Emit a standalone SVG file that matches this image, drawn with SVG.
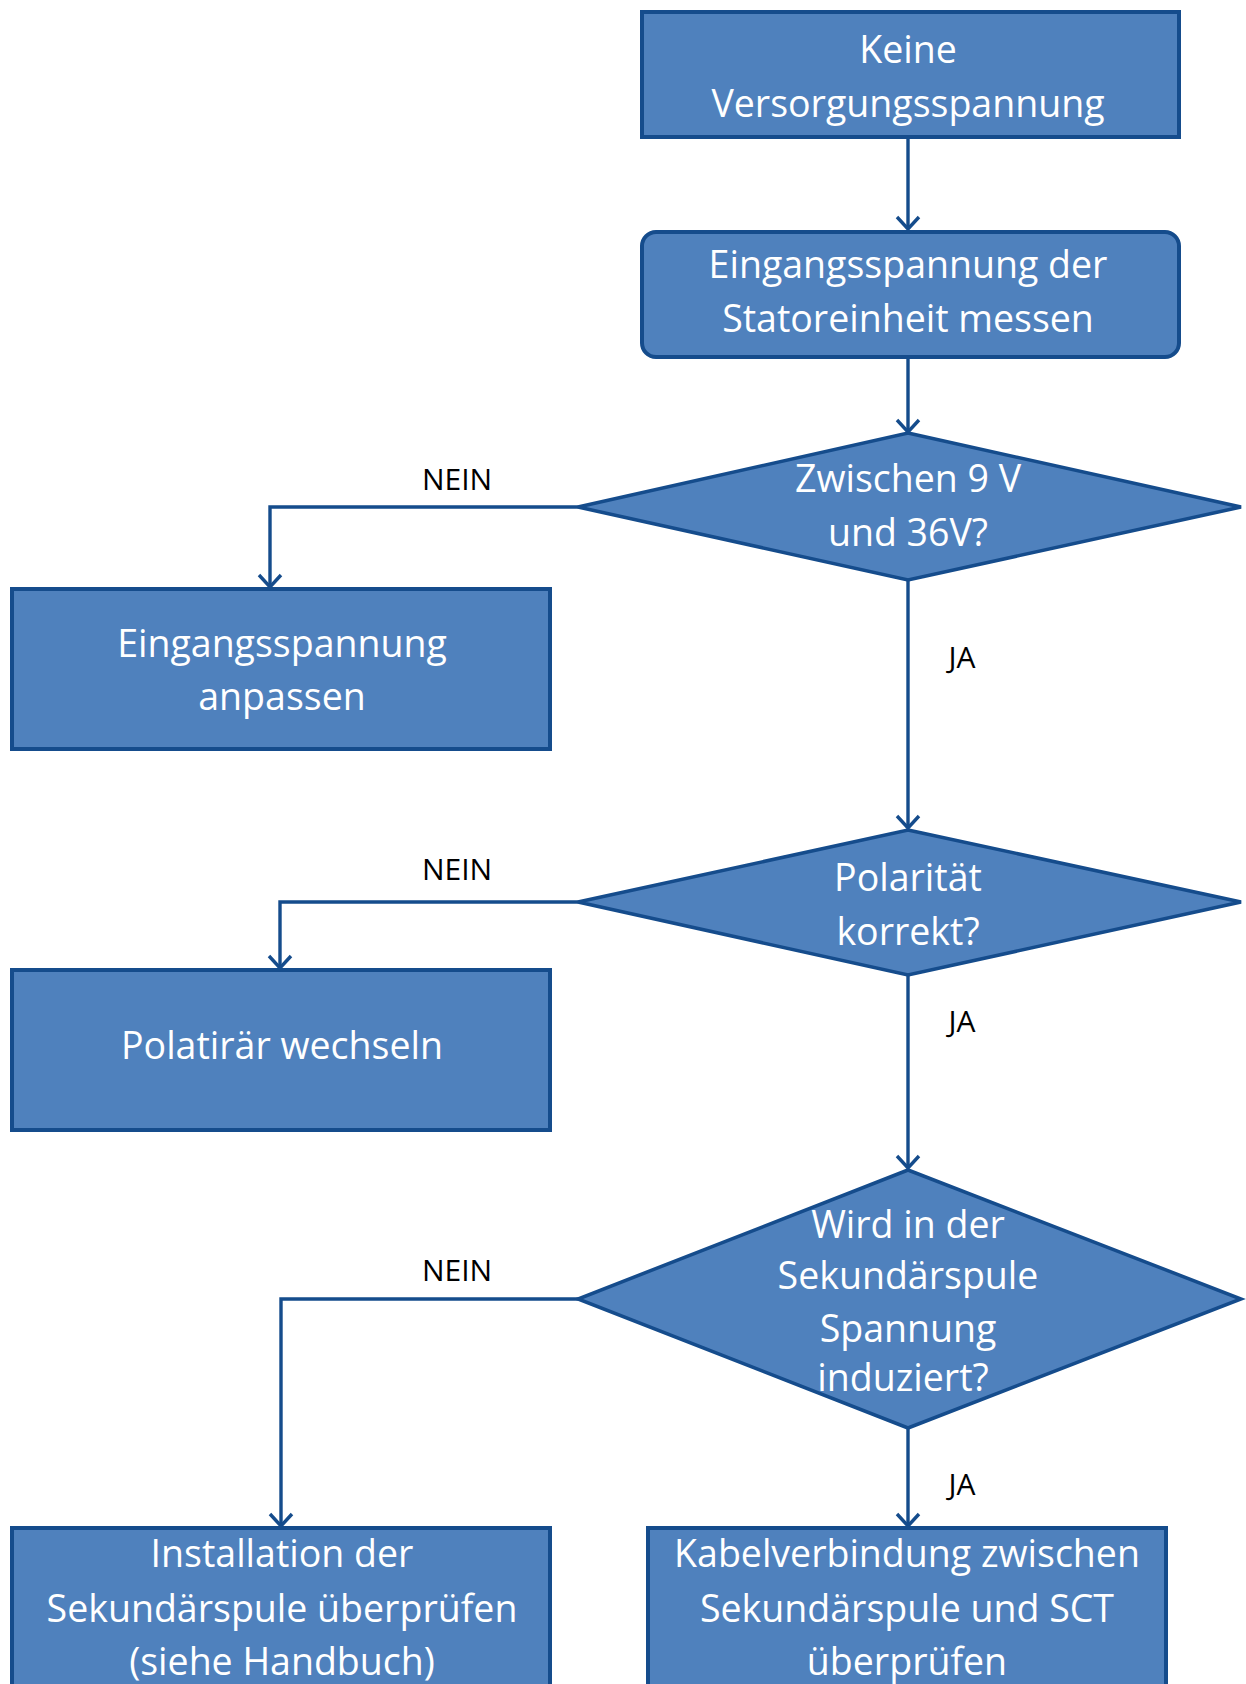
<svg xmlns="http://www.w3.org/2000/svg" width="1246" height="1684" viewBox="0 0 1246 1684">
  <style>
    .node { fill: #4F81BD; stroke: #154C8C; stroke-width: 4; }
    .diamond { fill: #4F81BD; stroke: #154C8C; stroke-width: 3.5; stroke-linejoin: miter; }
    .label { font-family: "Open Sans", "Noto Sans", "Liberation Sans", sans-serif; font-size: 37.5px; fill: #FFFFFF; text-anchor: middle; }
    .edge { fill: none; stroke: #154C8C; stroke-width: 3.4; }
    .edge-label { font-family: "Open Sans", "Noto Sans", "Liberation Sans", sans-serif; font-size: 30px; fill: #000000; text-anchor: middle; }
  </style>
  <defs>
    <marker id="arrow" markerUnits="userSpaceOnUse" markerWidth="30" markerHeight="30" viewBox="-15 -15 30 30" refX="0" refY="0" orient="auto">
      <path d="M-12,-11 L0,0 L-12,11" fill="none" stroke="#154C8C" stroke-width="3.4" stroke-linejoin="miter"/>
    </marker>
  </defs>
  <rect width="1246" height="1684" fill="#FFFFFF"/>

  <!-- connectors -->
  <g id="connectors">
    <path class="edge" d="M908,138 L908,229" marker-end="url(#arrow)"/>
    <path class="edge" d="M908,357 L908,432" marker-end="url(#arrow)"/>
    <path class="edge" d="M578,507 L270,507 L270,587" marker-end="url(#arrow)"/>
    <path class="edge" d="M908,580 L908,828" marker-end="url(#arrow)"/>
    <path class="edge" d="M578,902 L280,902 L280,968" marker-end="url(#arrow)"/>
    <path class="edge" d="M908,975 L908,1168" marker-end="url(#arrow)"/>
    <path class="edge" d="M578,1299 L281,1299 L281,1526" marker-end="url(#arrow)"/>
    <path class="edge" d="M908,1428 L908,1526" marker-end="url(#arrow)"/>
    <text class="edge-label" x="457" y="490">NEIN</text>
    <text class="edge-label" x="962" y="668">JA</text>
    <text class="edge-label" x="457" y="880">NEIN</text>
    <text class="edge-label" x="962" y="1032">JA</text>
    <text class="edge-label" x="457" y="1281">NEIN</text>
    <text class="edge-label" x="962" y="1495">JA</text>
  </g>

  <!-- start -->
  <g id="node-start">
    <rect class="node" x="642" y="12" width="537" height="125"/>
    <text class="label" x="908" y="63">Keine</text>
    <text class="label" x="908" y="117">Versorgungsspannung</text>
  </g>

  <!-- measure input voltage -->
  <g id="node-measure">
    <rect class="node" x="642" y="232" width="537" height="125" rx="14" ry="14"/>
    <text class="label" x="908" y="278">Eingangsspannung der</text>
    <text class="label" x="908" y="332">Statoreinheit messen</text>
  </g>

  <!-- decision: voltage range -->
  <g id="node-range">
    <polygon class="diamond" points="908,433 1241,507 908,580 578,507"/>
    <text class="label" x="908" y="492">Zwischen 9 V</text>
    <text class="label" x="908" y="546">und 36V?</text>
  </g>

  <!-- adjust voltage -->
  <g id="node-adjust">
    <rect class="node" x="12" y="589" width="538" height="160"/>
    <text class="label" x="282" y="657">Eingangsspannung</text>
    <text class="label" x="282" y="710">anpassen</text>
  </g>

  <!-- decision: polarity -->
  <g id="node-polarity">
    <polygon class="diamond" points="908,830 1241,902 908,975 578,902"/>
    <text class="label" x="908" y="891">Polarität</text>
    <text class="label" x="908" y="945">korrekt?</text>
  </g>

  <!-- swap polarity -->
  <g id="node-swap">
    <rect class="node" x="12" y="970" width="538" height="160"/>
    <text class="label" x="282" y="1059">Polatirär wechseln</text>
  </g>

  <!-- decision: induced voltage -->
  <g id="node-induced">
    <polygon class="diamond" points="908,1170 1241,1299 908,1428 578,1299"/>
    <text class="label" x="908" y="1238">Wird in der</text>
    <text class="label" x="908" y="1289">Sekundärspule</text>
    <text class="label" x="908" y="1342">Spannung</text>
    <text class="label" x="903" y="1391">induziert?</text>
  </g>

  <!-- check coil installation -->
  <g id="node-install">
    <rect class="node" x="12" y="1528" width="538" height="180"/>
    <text class="label" x="282" y="1567">Installation der</text>
    <text class="label" x="282" y="1622">Sekundärspule überprüfen</text>
    <text class="label" x="282" y="1675">(siehe Handbuch)</text>
  </g>

  <!-- check cable connection -->
  <g id="node-cable">
    <rect class="node" x="648" y="1528" width="518" height="180"/>
    <text class="label" x="907" y="1567">Kabelverbindung zwischen</text>
    <text class="label" x="907" y="1622">Sekundärspule und SCT</text>
    <text class="label" x="907" y="1675">überprüfen</text>
  </g>
</svg>
